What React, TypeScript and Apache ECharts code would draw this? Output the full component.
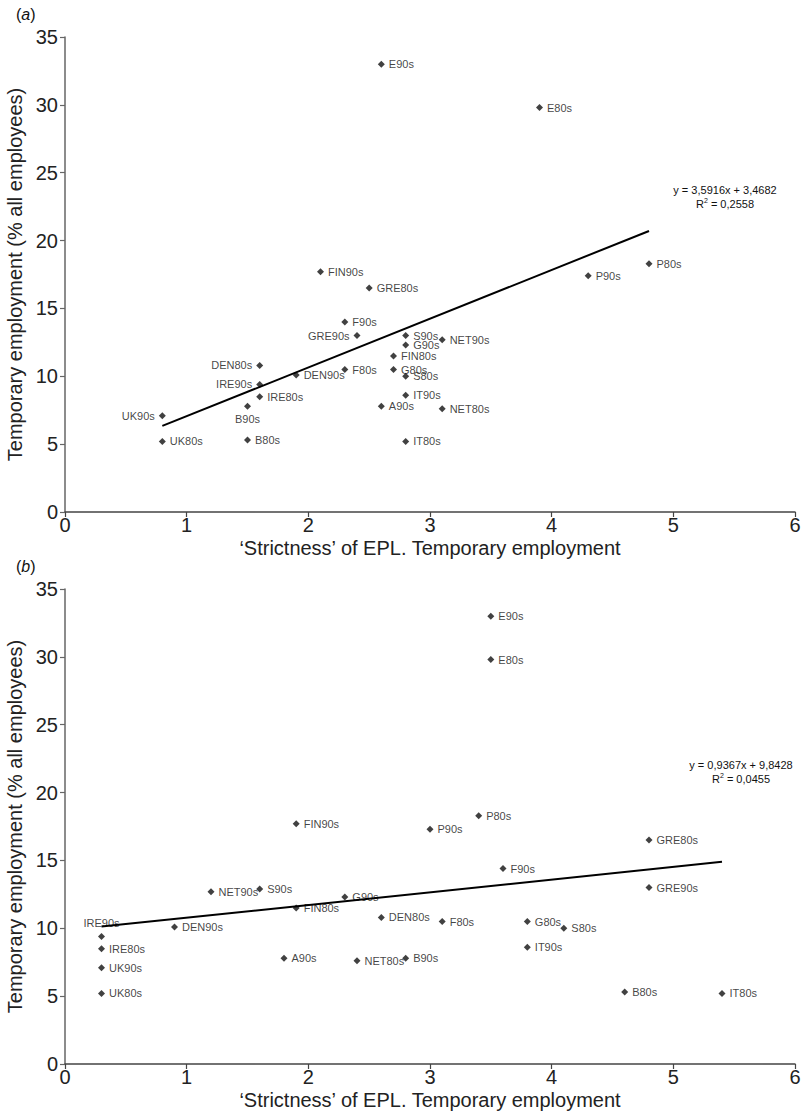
import React, { useEffect, useRef } from "react";
import * as echarts from "echarts";

// ---------- Panel (a) data ----------
const labelsA = ["E90s", "E80s", "P80s", "P90s", "FIN90s", "GRE80s", "F90s", "GRE90s", "S90s", "G90s", "NET90s", "FIN80s", "DEN80s", "DEN90s", "F80s", "G80s", "S80s", "IRE90s", "IRE80s", "IT90s", "B90s", "A90s", "NET80s", "UK90s", "UK80s", "B80s", "IT80s"];
const xA = [2.6, 3.9, 4.8, 4.3, 2.1, 2.5, 2.3, 2.4, 2.8, 2.8, 3.1, 2.7, 1.6, 1.9, 2.3, 2.7, 2.8, 1.6, 1.6, 2.8, 1.5, 2.6, 3.1, 0.8, 0.8, 1.5, 2.8];
const yA = [33, 29.8, 18.3, 17.4, 17.7, 16.5, 14, 13, 13, 12.3, 12.7, 11.5, 10.8, 10.1, 10.5, 10.5, 10, 9.4, 8.5, 8.6, 7.8, 7.8, 7.6, 7.1, 5.2, 5.3, 5.2];
const slopeA = 3.5916;
const interceptA = 3.4682;
const r2A = "0,2558";
const trendRangeA = [0.8, 4.8];

// ---------- Panel (b) data ----------
const labelsB = ["E90s", "E80s", "P80s", "P90s", "FIN90s", "GRE80s", "F90s", "GRE90s", "S90s", "NET90s", "G90s", "FIN80s", "DEN80s", "F80s", "G80s", "S80s", "DEN90s", "IRE90s", "IRE80s", "IT90s", "UK90s", "A90s", "NET80s", "B90s", "UK80s", "B80s", "IT80s"];
const xB = [3.5, 3.5, 3.4, 3.0, 1.9, 4.8, 3.6, 4.8, 1.6, 1.2, 2.3, 1.9, 2.6, 3.1, 3.8, 4.1, 0.9, 0.3, 0.3, 3.8, 0.3, 1.8, 2.4, 2.8, 0.3, 4.6, 5.4];
const yB = [33, 29.8, 18.3, 17.3, 17.7, 16.5, 14.4, 13, 12.9, 12.7, 12.3, 11.5, 10.8, 10.5, 10.5, 10, 10.1, 9.4, 8.5, 8.6, 7.1, 7.8, 7.6, 7.8, 5.2, 5.3, 5.2];
const slopeB = 0.9367;
const interceptB = 9.8428;
const r2B = "0,0455";
const trendRangeB = [0.3, 5.4];

// ---------- Axis ----------
const xTicks = { min: 0, max: 6, interval: 1 };
const yTicks = { min: 0, max: 35, interval: 5 };
const xTitle = "\u2018Strictness\u2019 of EPL. Temporary employment";
const yTitle = "Temporary employment (% all employees)";

// label placements (style only)
const labelPosA: Record<string, string> = { UK90s: "left", DEN80s: "left", IRE90s: "left", GRE90s: "left", B90s: "bottom" };
const labelPosB: Record<string, string> = { IRE90s: "top" };

const FONT = "'Liberation Sans', Arial, sans-serif";
const AXFONT = "'Liberation Sans', Arial, sans-serif";

const fmt = (v: number) => v.toFixed(4).replace(".", ",");

function makeAxes(gridIndex: number) {
  const x = {
    gridIndex,
    type: "value",
    ...xTicks,
    name: xTitle,
    nameLocation: "middle",
    nameGap: 26,
    nameTextStyle: { fontFamily: AXFONT, fontSize: 20, color: "#222" },
    axisLine: { show: true, onZero: false, lineStyle: { color: "#444", width: 1.5 } },
    axisTick: { show: true, inside: false, length: 5, lineStyle: { color: "#444", width: 1.2 } },
    axisLabel: { fontFamily: AXFONT, fontSize: 20, color: "#222", margin: 3 },
    splitLine: { show: false },
  };
  const y = {
    gridIndex,
    type: "value",
    ...yTicks,
    name: yTitle,
    nameLocation: "middle",
    nameRotate: 90,
    nameGap: 37,
    nameTextStyle: { fontFamily: AXFONT, fontSize: 20, color: "#222" },
    axisLine: { show: true, onZero: false, lineStyle: { color: "#666", width: 1.5 } },
    axisTick: { show: true, inside: false, length: 5, lineStyle: { color: "#666", width: 1.2 } },
    axisLabel: { fontFamily: AXFONT, fontSize: 20, color: "#222", margin: 7 },
    splitLine: { show: false },
  };
  return { x, y };
}

function scatterData(labels: string[], xs: number[], ys: number[], pos: Record<string, string>) {
  return labels.map((n, i) => ({
    name: n,
    value: [xs[i], ys[i]],
    label: { position: pos[n] || "right" },
  }));
}

function trend(range: number[], slope: number, intercept: number) {
  return range.map((x) => [x, slope * x + intercept]);
}

export default function App() {
  const ref = useRef<HTMLDivElement>(null);
  useEffect(() => {
    if (!ref.current) return;
    const chart = echarts.init(ref.current, undefined, { renderer: "svg" });
    const a = makeAxes(0);
    const b = makeAxes(1);
    const scatterStyle = {
      type: "scatter",
      symbol: "diamond",
      symbolSize: 7,
      itemStyle: { color: "#111" },
      label: {
        show: true,
        formatter: "{b}",
        distance: 4,
        fontFamily: FONT,
        fontSize: 11,
        color: "#111",
      },
      emphasis: { disabled: true },
    };
    const lineStyle = {
      type: "line",
      symbol: "none",
      lineStyle: { color: "#000", width: 2 },
      emphasis: { disabled: true },
    };
    const eqText = (x: number, y: number, slope: number, intercept: number, r2: string) => ({
      type: "text",
      x,
      y,
      style: {
        text: `y = ${fmt(slope)}x + ${fmt(intercept)}\nR{sup|2} = ${r2}`,
        fontFamily: FONT,
        fontSize: 11,
        lineHeight: 14,
        fill: "#111",
        align: "center",
        verticalAlign: "top",
        rich: { sup: { fontSize: 7, verticalAlign: "top", fontFamily: FONT } },
      },
    });
    const gridBase = { outerBoundsMode: "none", containLabel: false };
    chart.setOption({
      animation: false,
      backgroundColor: "#fff",
      grid: [
        { ...gridBase, left: 65, top: 37, width: 730, height: 475 },
        { ...gridBase, left: 65, top: 589, width: 730, height: 475 },
      ],
      xAxis: [a.x, b.x],
      yAxis: [a.y, b.y],
      series: [
        { ...scatterStyle, xAxisIndex: 0, yAxisIndex: 0, data: scatterData(labelsA, xA, yA, labelPosA) },
        { ...lineStyle, xAxisIndex: 0, yAxisIndex: 0, data: trend(trendRangeA, slopeA, interceptA) },
        { ...scatterStyle, xAxisIndex: 1, yAxisIndex: 1, data: scatterData(labelsB, xB, yB, labelPosB) },
        { ...lineStyle, xAxisIndex: 1, yAxisIndex: 1, data: trend(trendRangeB, slopeB, interceptB) },
      ],
      graphic: [
        {
          type: "text",
          left: 16,
          top: 6,
          style: { text: "({i|a})", fontFamily: FONT, fontSize: 16, fill: "#111", rich: { i: { fontStyle: "italic", fontSize: 16, fontFamily: FONT } } },
        },
        {
          type: "text",
          left: 16,
          top: 558,
          style: { text: "({i|b})", fontFamily: FONT, fontSize: 16, fill: "#111", rich: { i: { fontStyle: "italic", fontSize: 16, fontFamily: FONT } } },
        },
        eqText(725, 183, slopeA, interceptA, r2A),
        eqText(741, 758, slopeB, interceptB, r2B),
      ],
    });
    return () => chart.dispose();
  }, []);
  return (
    <div
      ref={ref}
      style={{ position: "absolute", left: 0, top: 0, width: 801, height: 1115, background: "#fff" }}
    />
  );
}
